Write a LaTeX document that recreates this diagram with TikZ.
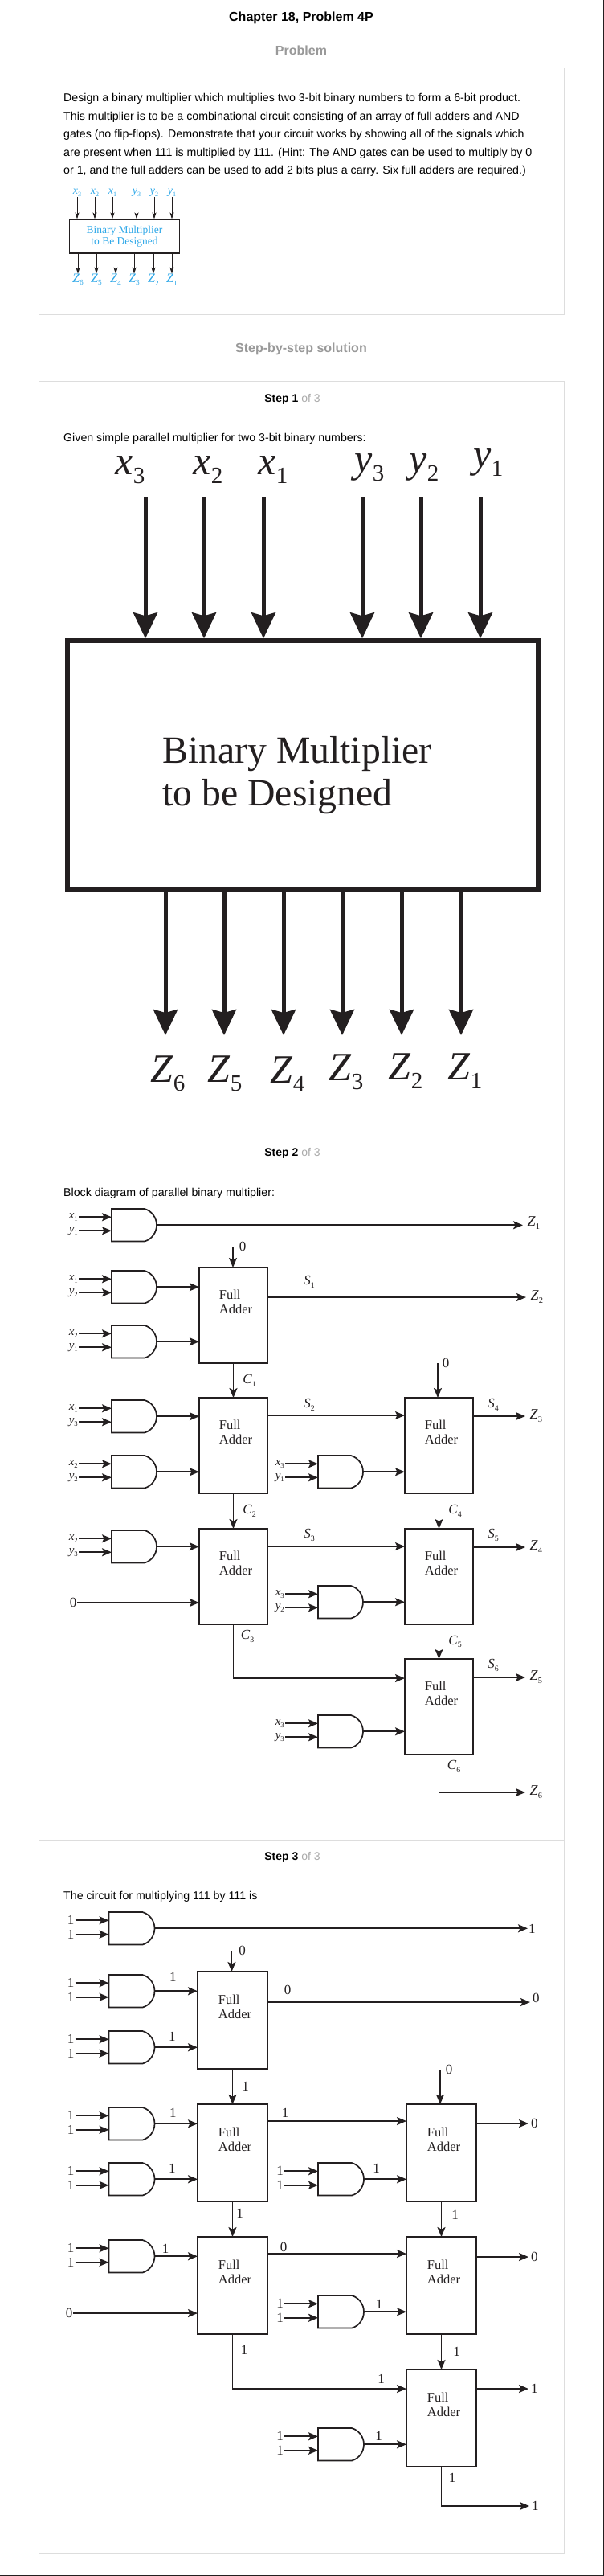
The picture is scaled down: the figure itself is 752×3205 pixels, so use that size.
\documentclass[tikz,border=0pt]{standalone}
\usepackage{fontspec}
\setmainfont{Liberation Serif}
\setsansfont{Liberation Sans}
\usetikzlibrary{positioning, arrows.meta}
\definecolor{ink}{HTML}{231F20}
\definecolor{framegray}{HTML}{DDDDDD}
\definecolor{headgray}{HTML}{999999}
\definecolor{stepgray}{HTML}{AAAAAA}
\definecolor{probblue}{HTML}{2FA8E8}
\newcommand{\vsub}[2]{\textit{#1}\raisebox{-.22em}{\scalebox{.58}{#2}}}
\newcommand{\fsize}[2]{\fontsize{#1}{#2}\selectfont}
\tikzset{
    wire/.style={->, line width=1.7pt, draw=ink},
    sig/.style={inner sep=1pt, text=ink, font=\fsize{15}{15}},
    val/.style={inner sep=1pt, text=ink, font=\fsize{17}{17}},
    outsig/.style={inner sep=1pt, inner xsep=5.5pt, anchor=west, text=ink, font=\fsize{18}{18}},
    outval/.style={val, anchor=west, inner xsep=3pt},
    adder/.style={draw=ink, line width=1.7pt, minimum width=85pt, minimum height=119pt, inner sep=0pt, outer sep=0pt,
        label={[xshift=3pt, yshift=16.5pt, align=left, inner sep=0pt, text=ink, font=\fsize{16.5}{18.5}]center:Full\\Adder}},
    adderwide/.style={adder, minimum width=87pt, minimum height=121pt},
    andgate/.style={minimum width=#1, minimum height=40.5pt, inner sep=0pt, outer sep=0pt,
        append after command={\pgfextra{\draw[line width=1.7pt, draw=ink, line join=miter]
            (\tikzlastnode.north west) -- ([xshift=-15pt]\tikzlastnode.north east)
            .. controls ([xshift=-6pt, yshift=-2.6pt]\tikzlastnode.north east) and ([yshift=9.2pt]\tikzlastnode.east) .. (\tikzlastnode.east)
            .. controls ([yshift=-9.2pt]\tikzlastnode.east) and ([xshift=-6pt, yshift=2.6pt]\tikzlastnode.south east) .. ([xshift=-15pt]\tikzlastnode.south east)
            -- (\tikzlastnode.south west) -- cycle;}}},
    andgate/.default=56pt,
    panel/.style={draw=framegray, line width=1pt},
    heading/.style={font=\sffamily\bfseries\fsize{16}{16}},
    stepline/.style={font=\sffamily\fsize{14}{14}, text=stepgray},
    bodytext/.style={anchor=west, inner sep=0pt, align=left, font=\sffamily\fsize{14.2}{22.5}},
    bigarrow/.style={-{Stealth[length=32pt, width=30pt, inset=4pt]}, line width=5pt, draw=ink},
    bigsym/.style={text=ink, font=\fsize{50}{50}},
    smallarrow/.style={-{Stealth[length=8pt, width=5pt, inset=2pt]}, line width=.9pt, draw=ink},
    smallsym/.style={inner sep=0pt, text=probblue, font=\fsize{14}{14}}
}
\begin{document}
\begin{tikzpicture}[x=1pt, y=-1pt, >={Stealth[length=12pt, width=10pt, inset=2.5pt]}]
    \useasboundingbox (0,0) rectangle (752,3205);
    \draw[ink, line width=1pt] (751.5,0) -- (751.5,3204.5) -- (0,3204.5);

    % page headings and panels
    \node (title) [heading] at (375,22) {Chapter 18, Problem 4P};
    \node (probhead) [heading, text=headgray] at (375,63) {Problem};
    \node (solhead) [heading, text=headgray] at (375,434) {Step-by-step solution};
    \draw[panel] (48.5,84.5) rectangle (702.5,391.5);
    \draw[panel] (48.5,474.5) rectangle (702.5,3177);
    \draw[panel] (48.5,1413) -- (702.5,1413);
    \draw[panel] (48.5,2289) -- (702.5,2289);

    % problem statement
    \node (probtext) [bodytext] at (79,168) {Design a binary multiplier which multiplies two 3-bit binary numbers to form a 6-bit product.\\
        This multiplier is to be a combinational circuit consisting of an array of full adders and AND\\
        gates (no flip-flops). Demonstrate that your circuit works by showing all of the signals which\\
        are present when 111 is multiplied by 111. (Hint: The AND gates can be used to multiply by 0\\
        or 1, and the full adders can be used to add 2 bits plus a carry. Six full adders are required.)};

    % small picture in the problem
    \node (sbox) [draw=ink, line width=1.1pt, minimum width=137pt, minimum height=42pt, inner sep=0pt, align=center,
        text=probblue, font=\fsize{13.5}{14}] at (155,294) {Binary Multiplier\\to Be Designed};
    \foreach \nm/\lx/\txt in {sx3/96/x3, sx2/118/x2, sx1/140/x1, sy3/170/y3, sy2/192/y2, sy1/214/y1}{
        \node (\nm) [smallsym] at (\lx,240) {\expandafter\vsub\txt};
        \draw[smallarrow] (\nm) -- (\nm |- sbox.north);
    }
    \foreach \nm/\lx/\txt in {sz6/97/Z6, sz5/120/Z5, sz4/144/Z4, sz3/167/Z3, sz2/191/Z2, sz1/214/Z1}{
        \node (\nm) [smallsym, font=\fsize{16}{16}] at (\lx,348) {\expandafter\vsub\txt};
        \draw[smallarrow] (sbox.south -| \nm) -- (\nm);
    }

    % step 1
    \node (stepa) [stepline] at (364,497) {\textcolor{black}{\textbf{Step 1}} of 3};
    \node (stepatext) [bodytext] at (79,546) {Given simple parallel multiplier for two 3-bit binary numbers:};
    \node (bigbox) [draw=ink, line width=5.5pt, minimum width=586pt, minimum height=310pt, inner sep=0pt] at (377,952) {};
    \node (bigtext) [right=121pt of bigbox.west, inner sep=0pt, align=left, text=ink, font=\fsize{47.7}{53}, yshift=-13pt] {Binary Multiplier\\to be Designed};
    \foreach \nm/\ax/\lx/\ly/\txt in {x3/181/162/585/x3, x2/254/259/585/x2, x1/328/340/585/x1, y3/451/460/582/y3, y2/524/528/582/y2, y1/598/608/576/y1}{
        \coordinate (in\nm) at (\ax,618);
        \node (lab\nm) [bigsym] at (\lx,\ly) {\expandafter\vsub\txt};
        \draw[bigarrow] (in\nm) -- (in\nm |- bigbox.north);
    }
    \foreach \nm/\ax/\lx/\ly/\txt in {z6/206/209/1336/Z6, z5/279/280/1336/Z5, z4/353/358/1337/Z4, z3/426/431/1334/Z3, z2/500/505/1333/Z2, z1/574/579/1333/Z1}{
        \coordinate (out\nm) at (\ax,1288);
        \node (lab\nm) [bigsym] at (\lx,\ly) {\expandafter\vsub\txt};
        \draw[bigarrow] (out\nm |- bigbox.south) -- (out\nm);
    }

    % step 2: block diagram
    \node (stepb) [stepline] at (364,1435) {\textcolor{black}{\textbf{Step 2}} of 3};
    \node (stepbtext) [bodytext] at (79,1485) {Block diagram of parallel binary multiplier:};
    \node (fa1) [adder, anchor=north west] at (248,1577) {};
    \node (fa2) [adder, below=43pt of fa1] {};
    \node (fa3) [adder, below=44pt of fa2] {};
    \node (fa4) [adder, right=171pt of fa2] {};
    \node (fa5) [adder, right=171pt of fa3] {};
    \node (fa6) [adder, below=43pt of fa5] {};
    \foreach \g/\gx/\gy/\la/\lb in {ga/139/1504/x1/y1, gb/139/1581/x1/y2, gc/139/1649/x2/y1, gd/139/1742/x1/y3, ge/139/1811/x2/y2,
        gf/396/1811/x3/y1, gg/139/1904/x2/y3, gh/396/1973/x3/y2, gi/396/2134/x3/y3}{
        \node (\g) [andgate, anchor=north west] at (\gx,\gy) {};
        \node (\g-a) [sig, left=41pt of \g.west, yshift=10pt] {\expandafter\vsub\la};
        \node (\g-b) [sig, left=41pt of \g.west, yshift=-7pt] {\expandafter\vsub\lb};
        \draw[wire] (\g-a) -- (\g-a -| \g.west);
        \draw[wire] (\g-b) -- (\g-b -| \g.west);
    }
    \node (zo1) [outsig] at (651,1522) {\vsub{Z}{1}};
    \node (zo2) [outsig] at (655,1614) {\vsub{Z}{2}};
    \node (zo3) [outsig] at (654,1762) {\vsub{Z}{3}};
    \node (zo4) [outsig] at (654,1925) {\vsub{Z}{4}};
    \node (zo5) [outsig] at (654,2087) {\vsub{Z}{5}};
    \node (zo6) [outsig] at (654,2230) {\vsub{Z}{6}};
    \draw[wire] (ga.east) -- (ga.east -| zo1.west);
    \draw[wire] (gb.east) -- (gb.east -| fa1.west);
    \draw[wire] (gc.east) -- (gc.east -| fa1.west);
    \draw[wire] (gd.east) -- (gd.east -| fa2.west);
    \draw[wire] (ge.east) -- (ge.east -| fa2.west);
    \draw[wire] (gf.east) -- (gf.east -| fa4.west);
    \draw[wire] (gg.east) -- (gg.east -| fa3.west);
    \draw[wire] (gh.east) -- (gh.east -| fa5.west);
    \draw[wire] (gi.east) -- (gi.east -| fa6.west);
    \coordinate (ca1) at (290,1551);
    \coordinate (ca4) at (545,1696);
    \draw[wire] (ca1) -- (ca1 |- fa1.north);
    \draw[wire] (ca4) -- (ca4 |- fa4.north);
    \node (zeroa1) [val] at (302,1551) {0};
    \node (zeroa4) [val] at (555,1696) {0};
    \node (zeroa3) [val] at (91,1994) {0};
    \draw[wire] (zeroa3) -- (zeroa3 -| fa3.west);
    \draw[wire] (zo2.west -| fa1.east) -- (zo2.west);
    \draw[wire] (fa1.south) -- node[sig, right=10pt, font=\fsize{17}{17}] (c1) {\vsub{C}{1}} (fa2.north);
    \draw[wire] (fa2.south) -- node[sig, right=10pt, font=\fsize{17}{17}] (c2) {\vsub{C}{2}} (fa3.north);
    \draw[wire] (fa4.south) -- node[sig, right=10pt, font=\fsize{17}{17}] (c4) {\vsub{C}{4}} (fa5.north);
    \draw[wire] (fa5.south) -- node[sig, right=10pt, font=\fsize{17}{17}] (c5) {\vsub{C}{5}} (fa6.north);
    \draw[wire] ([yshift=37.5pt]fa2.east) -- ([yshift=37.5pt]fa4.west);
    \draw[wire] ([yshift=37.5pt]fa3.east) -- ([yshift=37.5pt]fa5.west);
    \draw[wire] (zo3.west -| fa4.east) -- (zo3.west);
    \draw[wire] (zo4.west -| fa5.east) -- (zo4.west);
    \draw[wire] (zo5.west -| fa6.east) -- (zo5.west);
    \draw[wire] (fa3.south) |- ([yshift=35.5pt]fa6.west);
    \draw[wire] (fa6.south) |- (zo6.west);
    \node (ss1) [sig, font=\fsize{17}{17}] at (385,1595) {\vsub{S}{1}};
    \node (ss2) [sig, font=\fsize{17}{17}] at (385,1748) {\vsub{S}{2}};
    \node (ss3) [sig, font=\fsize{17}{17}] at (385,1910) {\vsub{S}{3}};
    \node (ss4) [sig, font=\fsize{17}{17}] at (614,1748) {\vsub{S}{4}};
    \node (ss5) [sig, font=\fsize{17}{17}] at (614,1910) {\vsub{S}{5}};
    \node (ss6) [sig, font=\fsize{17}{17}] at (614,2072) {\vsub{S}{6}};
    \node (c3) [sig, font=\fsize{17}{17}] at (308,2036) {\vsub{C}{3}};
    \node (c6) [sig, font=\fsize{17}{17}] at (565,2198) {\vsub{C}{6}};

    % step 3: 111 times 111
    \node (stepc) [stepline] at (364,2311) {\textcolor{black}{\textbf{Step 3}} of 3};
    \node (stepctext) [bodytext] at (79,2360) {The circuit for multiplying 111 by 111 is};
    \node (fb1) [adderwide, anchor=north west] at (246,2453) {};
    \node (fb2) [adderwide, below=44pt of fb1] {};
    \node (fb3) [adderwide, below=44pt of fb2] {};
    \node (fb4) [adderwide, right=173pt of fb2] {};
    \node (fb5) [adderwide, right=173pt of fb3] {};
    \node (fb6) [adderwide, below=44pt of fb5] {};
    \foreach \g/\gx/\gy in {ha/135.5/2379, hb/135.5/2457, hc/135.5/2527, hd/135.5/2622, he/135.5/2691,
        hf/396/2691, hg/135.5/2787, hh/396/2856, hi/396/3021}{
        \node (\g) [andgate=57pt, anchor=north west] at (\gx,\gy) {};
        \node (\g-a) [val, left=42pt of \g.west, yshift=10pt] {1};
        \node (\g-b) [val, left=42pt of \g.west, yshift=-7.5pt] {1};
        \draw[wire] (\g-a) -- (\g-a -| \g.west);
        \draw[wire] (\g-b) -- (\g-b -| \g.west);
    }
    \node (ro1) [outval, inner xsep=1pt] at (657,2400) {1};
    \coordinate (ro2e) at (660,2491);
    \node (ro2) [outval] at (660,2486) {0};
    \node (ro3) [outval] at (658,2642) {0};
    \node (ro4) [outval] at (658,2808) {0};
    \node (ro5) [outval] at (658,2972) {1};
    \node (ro6) [outval] at (659,3118) {1};
    \draw[wire] (ha.east) -- (ha.east -| ro1.west);
    \draw[wire] (hb.east) -- node[val, above=10pt, xshift=-4pt] (v1) {1} (hb.east -| fb1.west);
    \draw[wire] (hc.east) -- node[val, above=6pt, xshift=-5pt] (v2) {1} (hc.east -| fb1.west);
    \draw[wire] (hd.east) -- node[val, above=6pt, xshift=-4pt] (v3) {1} (hd.east -| fb2.west);
    \draw[wire] (he.east) -- node[val, above=6pt, xshift=-5pt] (v4) {1} (he.east -| fb2.west);
    \draw[wire] (hf.east) -- node[val, above=6pt, xshift=-11pt] (v5) {1} (hf.east -| fb4.west);
    \draw[wire] (hg.east) -- (hg.east -| fb3.west);
    \draw[wire] (hh.east) -- (hh.east -| fb5.west);
    \draw[wire] (hi.east) -- (hi.east -| fb6.west);
    \node (v6) [val] at (206,2798) {1};
    \node (v7) [val] at (472,2867) {1};
    \node (v8) [val] at (471.5,3031) {1};
    \coordinate (cb1) at (288.5,2427);
    \coordinate (cb4) at (548,2575);
    \draw[wire] (cb1) -- (cb1 |- fb1.north);
    \draw[wire] (cb4) -- (cb4 |- fb4.north);
    \node (zerob1) [val] at (301.5,2427) {0};
    \node (zerob4) [val] at (559,2575) {0};
    \node (zerob3) [val] at (86,2878) {0};
    \draw[wire] (zerob3) -- (zerob3 -| fb3.west);
    \draw[wire] (ro2e -| fb1.east) -- (ro2e);
    \draw[wire] (fb1.south) -- node[val, right=10pt] (w1) {1} (fb2.north);
    \draw[wire] (fb2.south) -- node[val, right=3pt, yshift=7pt] (w2) {1} (fb3.north);
    \draw[wire] (fb4.south) -- node[val, right=11pt, yshift=5pt] (w4) {1} (fb5.north);
    \draw[wire] (fb5.south) -- node[val, right=13pt] (w5) {1} (fb6.north);
    \draw[wire] ([yshift=39.5pt]fb2.east) -- ([yshift=39.5pt]fb4.west);
    \draw[wire] ([yshift=39.5pt]fb3.east) -- ([yshift=39.5pt]fb5.west);
    \draw[wire] (ro3.west -| fb4.east) -- (ro3.west);
    \draw[wire] (ro4.west -| fb5.east) -- (ro4.west);
    \draw[wire] (ro5.west -| fb6.east) -- (ro5.west);
    \draw[wire] (fb3.south) |- ([yshift=36.5pt]fb6.west);
    \draw[wire] (fb6.south) |- (ro6.west);
    \node (tb1) [val] at (358,2476) {0};
    \node (tb2) [val] at (355,2629) {1};
    \node (tb3) [val] at (353,2796) {0};
    \node (tb4) [val] at (304,2924) {1};
    \node (tb5) [val] at (474.5,2960) {1};
    \node (tb6) [val] at (563,3083) {1};
\end{tikzpicture}
\end{document}
